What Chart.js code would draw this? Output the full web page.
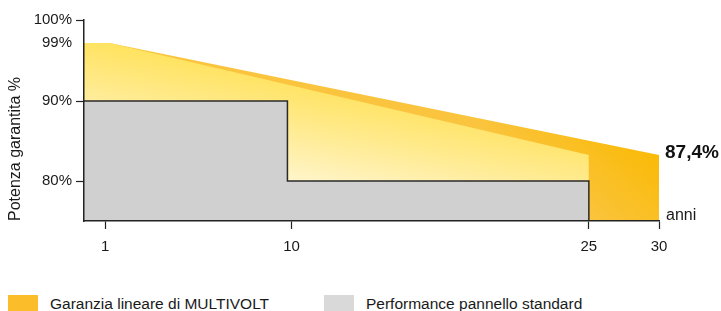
<!DOCTYPE html>
<html>
<head>
<meta charset="utf-8">
<script src="https://cdn.jsdelivr.net/npm/chart.js@4"></script>
<style>
  html, body { margin: 0; padding: 0; background: #fff; }
  body { width: 721px; height: 311px; overflow: hidden; position: relative;
         font-family: "Liberation Sans", Arial, Helvetica, sans-serif; color: #1a1a1a; }
  #wrap { position: absolute; left: 0; top: 0; width: 721px; height: 285px; }
  .legend-item { position: absolute; top: 295px; height: 20px; font-size: 15.5px; }
  .legend-item .box { position: absolute; left: 0; top: 0; width: 30px; height: 18px; }
  .legend-item .txt { position: absolute; left: 42px; top: 0; line-height: 18px; white-space: nowrap; }
</style>
</head>
<body>
<div id="wrap"><canvas id="chart"></canvas></div>
<div id="legend"></div>
<script>
// axis ticks
const xTicks = [1, 10, 25, 30];
const yTicks = [80, 90, 99, 100];

// MULTIVOLT linear warranty, 30 years
const warrantyYears = [0, 1.2, 30];
const warrantyValues = [99, 99, 87.4];

// same slope, first 25 years (light part)
const warranty25Years = [0, 1.2, 25];
const warranty25Values = [99, 99, 87.4];

// standard panel, stepped
const standardYears = [0, 9.8, 9.8, 25, 25];
const standardValues = [90, 90, 80, 80, 75];

const legendLabels = ["Garanzia lineare di MULTIVOLT", "Performance pannello standard"];
const legendColors = ["#FBBE2A", "#D9D9D9"];

// the reference axes are not linear: value -> fraction of axis length
const axisAnchors = {
    x: { values: [0, 1, 10, 25, 30], fracs: [0, 0.037, 0.361, 0.878, 1] },
    y: { values: [75, 80, 87.4, 90, 99, 100], fracs: [0, 0.199, 0.328, 0.597, 0.886, 1] }
};

function interp(v, from, to) {
    if (v <= from[0]) return to[0] + (v - from[0]) * (to[1] - to[0]) / (from[1] - from[0]);
    for (let i = 1; i < from.length; i++) {
        if (v <= from[i]) {
            return to[i - 1] + (v - from[i - 1]) * (to[i] - to[i - 1]) / (from[i] - from[i - 1]);
        }
    }
    const n = from.length - 1;
    return to[n] + (v - from[n]) * (to[n] - to[n - 1]) / (from[n] - from[n - 1]);
}

class PiecewiseScale extends Chart.LinearScale {
    getPixelForValue(value) {
        if (value === null || value === undefined) return NaN;
        const a = axisAnchors[this.axis];
        return this.getPixelForDecimal(interp(value, a.values, a.fracs));
    }
    getValueForPixel(pixel) {
        const a = axisAnchors[this.axis];
        return interp(this.getDecimalForPixel(pixel), a.fracs, a.values);
    }
}
PiecewiseScale.id = "piecewise";
Chart.register(PiecewiseScale);

const FONT = '"Liberation Sans", Arial, Helvetica, sans-serif';
const TEXT = "#1a1a1a";

function pts(xs, ys) {
    return xs.map((x, i) => ({ x: x, y: ys[i] }));
}

function lightGradient(context) {
    const a = context.chart.chartArea;
    if (!a) return "#FFE874";
    const w = a.right - a.left, h = a.bottom - a.top;
    const g = context.chart.ctx.createLinearGradient(a.left + 0.72 * w, a.top + 0.40 * h, a.left + 0.68 * w, a.top + 1.0 * h);
    g.addColorStop(0, "#FFE04E");
    g.addColorStop(0.5, "#FFEA8C");
    g.addColorStop(1, "#FFF6D0");
    return g;
}

function goldGradient(context) {
    const a = context.chart.chartArea;
    if (!a) return "#F9B800";
    const w = a.right - a.left, h = a.bottom - a.top;
    const g = context.chart.ctx.createLinearGradient(a.right, a.top + 0.6 * h, a.right - 0.12 * w, a.bottom);
    g.addColorStop(0, "#FAB900");
    g.addColorStop(1, "#FAC43E");
    return g;
}

const endLabels = {
    id: "endLabels",
    afterDatasetsDraw(chart) {
        const ctx = chart.ctx;
        const meta = chart.getDatasetMeta(2);
        const last = meta.data[meta.data.length - 1];
        const endValue = warrantyValues[warrantyValues.length - 1];
        ctx.save();
        ctx.fillStyle = "#111";
        ctx.textAlign = "left";
        ctx.textBaseline = "alphabetic";
        ctx.font = "bold 19px " + FONT;
        ctx.fillText(String(endValue).replace(".", ",") + "%", last.x + 6, last.y + 3);
        ctx.fillStyle = TEXT;
        ctx.font = "16px " + FONT;
        ctx.fillText("anni", chart.chartArea.right + 7, chart.chartArea.bottom - 1);
        ctx.restore();
    }
};

new Chart(document.getElementById("chart"), {
    type: "line",
    data: {
        datasets: [
            {
                label: legendLabels[1],
                data: pts(standardYears, standardValues),
                borderColor: "#2a2a2a",
                borderWidth: 1.5,
                backgroundColor: "#D0D0D0",
                fill: "start",
                pointRadius: 0,
                tension: 0
            },
            {
                label: "25",
                data: pts(warranty25Years, warranty25Values),
                borderWidth: 0,
                backgroundColor: lightGradient,
                fill: "start",
                pointRadius: 0,
                tension: 0
            },
            {
                label: legendLabels[0],
                data: pts(warrantyYears, warrantyValues),
                borderWidth: 0,
                backgroundColor: goldGradient,
                fill: "start",
                pointRadius: 0,
                tension: 0
            }
        ]
    },
    options: {
        responsive: true,
        maintainAspectRatio: false,
        animation: false,
        events: [],
        layout: { padding: { left: 0, right: 62, top: 20, bottom: 0 } },
        plugins: {
            legend: { display: false },
            tooltip: { enabled: false }
        },
        scales: {
            x: {
                type: "piecewise",
                min: 0,
                max: 30,
                afterBuildTicks: s => { s.ticks = xTicks.map(v => ({ value: v })); },
                afterFit: s => { s.height = 64; },
                grid: { drawOnChartArea: false, drawTicks: true, tickLength: 8, tickColor: "#222", tickWidth: 1.2 },
                border: { display: true, color: "#222", width: 1.5, z: 1 },
                ticks: {
                    autoSkip: false,
                    maxRotation: 0,
                    padding: 9,
                    color: TEXT,
                    font: { family: FONT, size: 15 },
                    callback: v => String(v)
                }
            },
            y: {
                type: "piecewise",
                min: 75,
                max: 100,
                afterBuildTicks: s => { s.ticks = yTicks.map(v => ({ value: v })); },
                afterFit: s => { s.width = 84; },
                grid: {
                    drawOnChartArea: false,
                    drawTicks: true,
                    tickLength: 8,
                    tickWidth: 1.2,
                    tickColor: c => (c.tick && c.tick.value === 99 ? "rgba(0,0,0,0)" : "#222")
                },
                border: { display: true, color: "#222", width: 1.5, z: 1 },
                ticks: {
                    padding: 4,
                    color: TEXT,
                    font: { family: FONT, size: 15 },
                    callback: v => v + "%"
                },
                title: {
                    display: true,
                    text: "Potenza garantita %",
                    align: "start",
                    color: TEXT,
                    font: { family: FONT, size: 16 },
                    padding: { top: 6, bottom: 0 }
                }
            }
        }
    },
    plugins: [endLabels]
});

// legend below the chart
const legendLeft = [8, 324];
const legend = document.getElementById("legend");
legendLabels.forEach((label, i) => {
    const item = document.createElement("div");
    item.className = "legend-item";
    item.style.left = legendLeft[i] + "px";
    item.innerHTML = `<span class="box" style="background:${legendColors[i]}"></span><span class="txt">${label}</span>`;
    legend.appendChild(item);
});
</script>
</body>
</html>
